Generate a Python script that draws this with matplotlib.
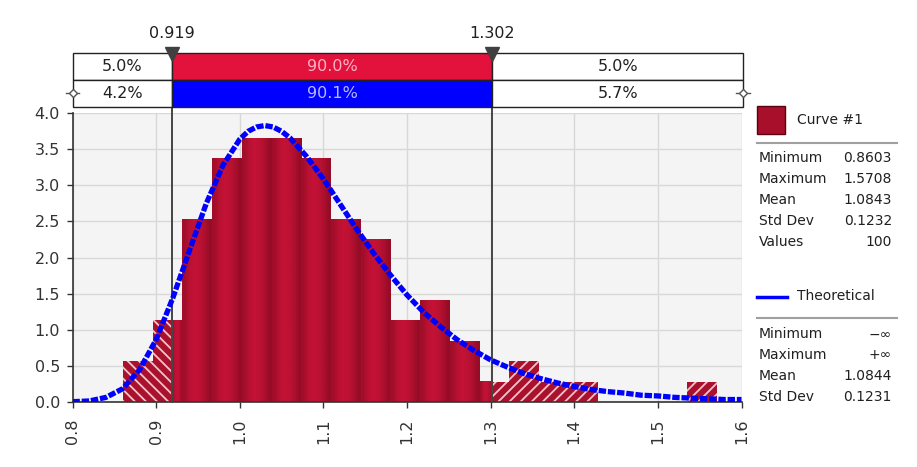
import numpy as np
import matplotlib.pyplot as plt
from matplotlib.patches import Rectangle
from matplotlib.lines import Line2D
from matplotlib.colors import LinearSegmentedColormap

# histogram of 100 values (density), 20 bins from min to max
bin_edges = [0.8603, 0.8958, 0.9314, 0.9669, 1.0024, 1.0380, 1.0735, 1.1090,
             1.1446, 1.1801, 1.2156, 1.2512, 1.2867, 1.3222, 1.3578, 1.3933,
             1.4288, 1.4644, 1.4999, 1.5354, 1.5708]
bin_heights = [0.56, 1.13, 2.53, 3.38, 3.66, 3.66, 3.38, 2.53, 2.25, 1.13,
               1.41, 0.84, 0.28, 0.56, 0.28, 0.28, 0.0, 0.0, 0.0, 0.28]

# theoretical fitted curve
curve_x = [0.80, 0.82, 0.84, 0.86, 0.88, 0.90, 0.92, 0.94, 0.96, 0.98, 1.00,
           1.01, 1.02, 1.03, 1.04, 1.05, 1.06, 1.08, 1.10, 1.12, 1.14, 1.16,
           1.18, 1.20, 1.22, 1.24, 1.26, 1.28, 1.30, 1.32, 1.34, 1.36, 1.38,
           1.40, 1.42, 1.44, 1.46, 1.48, 1.50, 1.52, 1.54, 1.56, 1.58, 1.60]
curve_y = [0.00, 0.01, 0.06, 0.18, 0.44, 0.86, 1.44, 2.10, 2.75, 3.28, 3.64,
           3.75, 3.81, 3.83, 3.81, 3.75, 3.66, 3.40, 3.09, 2.74, 2.39, 2.06,
           1.76, 1.48, 1.24, 1.04, 0.86, 0.71, 0.58, 0.48, 0.39, 0.32, 0.26,
           0.21, 0.17, 0.14, 0.12, 0.09, 0.08, 0.06, 0.05, 0.04, 0.03, 0.03]

# delimiters and percentages of the top bar
left_mark, right_mark = 0.919, 1.302
pct_fit = ['5.0%', '90.0%', '5.0%']
pct_input = ['4.2%', '90.1%', '5.7%']

curve1_stats = [('Minimum', '0.8603'), ('Maximum', '1.5708'), ('Mean', '1.0843'),
                ('Std Dev', '0.1232'), ('Values', '100')]
theo_stats = [('Minimum', '\u2212\u221e'), ('Maximum', '+\u221e'), ('Mean', '1.0844'),
              ('Std Dev', '0.1231')]

W, H = 917, 467
plt.rcParams['hatch.linewidth'] = 1.3


def fx(px):
    return px / W


def fy(py):
    return 1 - py / H


fig = plt.figure(figsize=(W / 100, H / 100), dpi=100)
ax = fig.add_axes([fx(72.5), fy(401.7), fx(741.5) - fx(72.5), fy(113.3) - fy(401.7)])

red_cmap = LinearSegmentedColormap.from_list('bar', ['#7e0a1e', '#c41236'])
profile = np.array([[0.5, 0.85, 1.0, 0.9, 0.7, 0.35]])

for a, b, h in zip(bin_edges[:-1], bin_edges[1:], bin_heights):
    if h == 0:
        continue
    if a < left_mark:
        ax.bar(a, h, min(b, left_mark) - a, align='edge', facecolor='#aa112c',
               edgecolor='#f3c3cb', linewidth=0, hatch='\\\\\\', zorder=2)
    if b > right_mark:
        x0 = max(a, right_mark)
        ax.bar(x0, h, b - x0, align='edge', facecolor='#aa112c',
               edgecolor='#f3c3cb', linewidth=0, hatch='///', zorder=2)
    s0, s1 = max(a, left_mark), min(b, right_mark)
    if s1 > s0:
        ax.imshow(profile, extent=[s0, s1, 0, h], aspect='auto', cmap=red_cmap,
                  vmin=0, vmax=1, interpolation='bilinear', zorder=2)

for xm in (left_mark, right_mark):
    ax.plot([xm, xm], [0, 4.095], color='#454545', lw=1.4, zorder=3, clip_on=False)

ax.plot(curve_x, curve_y, color='#0000ff', lw=3.8, ls=(0, (1.4, 0.35)),
        dash_capstyle='butt', zorder=5)

ax.set_xlim(0.8, 1.6)
ax.set_ylim(0, 4)
ax.set_facecolor('#f4f4f4')
ax.set_axisbelow(True)
ax.grid(color='#d8d8d8', lw=1)
ax.set_xticks([0.8, 0.9, 1.0, 1.1, 1.2, 1.3, 1.4, 1.5, 1.6])
ax.set_xticklabels(['0.8', '0.9', '1.0', '1.1', '1.2', '1.3', '1.4', '1.5', '1.6'],
                   rotation=90)
ax.set_yticks([0.0, 0.5, 1.0, 1.5, 2.0, 2.5, 3.0, 3.5, 4.0])
ax.set_yticklabels(['0.0', '0.5', '1.0', '1.5', '2.0', '2.5', '3.0', '3.5', '4.0'])
ax.tick_params(axis='both', labelsize=11.5, colors='#333333', length=4, width=1)
ax.tick_params(axis='x', pad=8)
ax.tick_params(axis='y', pad=5)
for s in ('top', 'right'):
    ax.spines[s].set_visible(False)
for s in ('left', 'bottom'):
    ax.spines[s].set_color('#333333')
    ax.spines[s].set_linewidth(1.2)

# top delimiter bar
tax = fig.add_axes([fx(72.5), fy(106.7), fx(741.5) - fx(72.5), fy(52.7) - fy(106.7)])
tax.set_xlim(0.8, 1.6)
tax.set_ylim(0, 2)
tax.axis('off')
bounds = [0.8, left_mark, right_mark, 1.602]
for row, labels, mid_color, mid_text in [(1, pct_fit, '#e2123c', '#ffb3c2'),
                                         (0, pct_input, '#0000ff', '#b8b8ff')]:
    for i in range(3):
        fc = mid_color if i == 1 else 'white'
        tax.add_patch(Rectangle((bounds[i], row), bounds[i + 1] - bounds[i], 1,
                                facecolor=fc, edgecolor='#222222', lw=1, clip_on=False))
        tax.text((bounds[i] + bounds[i + 1]) / 2, row + 0.5, labels[i],
                 ha='center', va='center', fontsize=11.5,
                 color=mid_text if i == 1 else '#202020')
tax.plot([left_mark, right_mark], [1.95, 1.95], ls='none', marker='v', ms=10,
         color='#404040', clip_on=False, zorder=4)
for xm in (left_mark, right_mark):
    tax.text(xm, 2.72, f'{xm:.3f}', ha='center', va='center', fontsize=11.5,
             color='#202020')
for xe in (0.8, 1.602):
    tax.plot([xe - 0.008, xe + 0.008], [0.5, 0.5], color='#555555', lw=1, clip_on=False)
    tax.plot([xe], [0.5], marker='D', ms=4, mfc='white', mec='#555555', mew=1,
             clip_on=False)

# legend panel
fig.add_artist(Rectangle((fx(757), fy(134)), fx(28), fy(106) - fy(134),
                         facecolor='#a80f2b', edgecolor='#5a0010', lw=1))
fig.text(fx(797), fy(120), 'Curve #1', fontsize=10, va='center', color='#202020')
fig.add_artist(Line2D([fx(757), fx(897)], [fy(143), fy(143)], color='#a0a0a0', lw=1.5))
for i, (k, v) in enumerate(curve1_stats):
    yy = fy(157.5 + 21.2 * i)
    fig.text(fx(759), yy, k, fontsize=10, va='center', color='#202020')
    fig.text(fx(892), yy, v, fontsize=10, va='center', ha='right', color='#202020')

fig.add_artist(Line2D([fx(757), fx(787)], [fy(297), fy(297)], color='#0000ff', lw=2.5))
fig.text(fx(797), fy(296), 'Theoretical', fontsize=10, va='center', color='#202020')
fig.add_artist(Line2D([fx(757), fx(897)], [fy(317.5), fy(317.5)], color='#a0a0a0', lw=1.5))
for i, (k, v) in enumerate(theo_stats):
    yy = fy(334.5 + 20.8 * i)
    fig.text(fx(759), yy, k, fontsize=10, va='center', color='#202020')
    fig.text(fx(892), yy, v, fontsize=10, va='center', ha='right', color='#202020')

fig.savefig('out.png', dpi=100)
